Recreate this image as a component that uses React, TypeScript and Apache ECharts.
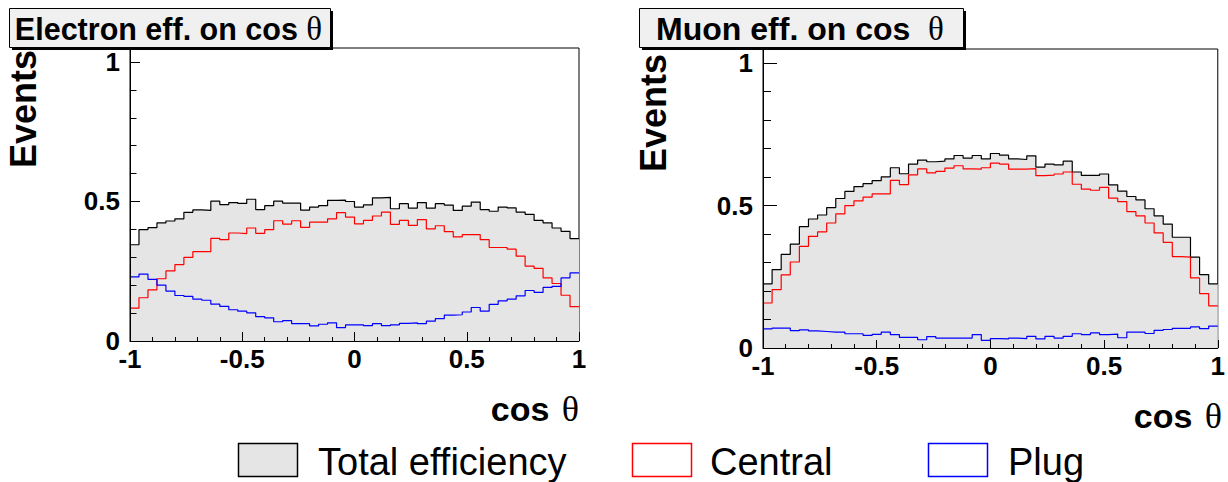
import React, { useEffect, useRef } from 'react';
import * as echarts from 'echarts';

// ---- histogram binning (50 bins over cos theta in [-1, 1]) ----
const X_MIN = -1;
const X_MAX = 1;

// ---- Electron panel ----
const electronTotal = [
  0.345, 0.399, 0.406, 0.423, 0.430, 0.438, 0.461, 0.470, 0.468, 0.501,
  0.489, 0.496, 0.493, 0.508, 0.471, 0.485, 0.501, 0.494, 0.494, 0.469,
  0.480, 0.485, 0.504, 0.505, 0.500, 0.480, 0.488, 0.513, 0.515, 0.474,
  0.492, 0.476, 0.496, 0.476, 0.492, 0.487, 0.468, 0.483, 0.498, 0.471,
  0.465, 0.480, 0.477, 0.462, 0.454, 0.432, 0.423, 0.405, 0.393, 0.367,
];
const electronCentral = [
  0.118, 0.155, 0.183, 0.223, 0.251, 0.274, 0.300, 0.320, 0.320, 0.368,
  0.363, 0.387, 0.385, 0.405, 0.386, 0.399, 0.431, 0.419, 0.431, 0.407,
  0.426, 0.426, 0.438, 0.460, 0.444, 0.420, 0.432, 0.448, 0.462, 0.418,
  0.432, 0.414, 0.435, 0.402, 0.413, 0.392, 0.373, 0.381, 0.381, 0.363,
  0.335, 0.335, 0.329, 0.304, 0.268, 0.260, 0.226, 0.206, 0.164, 0.123,
];
const electronPlug = [
  0.230, 0.240, 0.221, 0.200, 0.179, 0.163, 0.160, 0.150, 0.146, 0.132,
  0.124, 0.112, 0.107, 0.101, 0.087, 0.083, 0.069, 0.073, 0.062, 0.062,
  0.054, 0.060, 0.065, 0.048, 0.058, 0.058, 0.055, 0.062, 0.055, 0.058,
  0.063, 0.065, 0.062, 0.071, 0.080, 0.093, 0.094, 0.104, 0.120, 0.107,
  0.131, 0.144, 0.150, 0.162, 0.181, 0.174, 0.192, 0.196, 0.226, 0.244,
];

// ---- Muon panel ----
const muonTotal = [
  0.225, 0.275, 0.329, 0.365, 0.426, 0.453, 0.467, 0.493, 0.525, 0.550,
  0.567, 0.577, 0.588, 0.601, 0.633, 0.612, 0.646, 0.660, 0.654, 0.656,
  0.664, 0.676, 0.667, 0.676, 0.664, 0.683, 0.677, 0.664, 0.662, 0.675,
  0.635, 0.646, 0.643, 0.656, 0.618, 0.606, 0.606, 0.611, 0.573, 0.551,
  0.532, 0.520, 0.489, 0.464, 0.435, 0.389, 0.389, 0.319, 0.258, 0.225,
];
const muonCentral = [
  0.158, 0.205, 0.257, 0.302, 0.357, 0.392, 0.408, 0.439, 0.471, 0.500,
  0.517, 0.530, 0.541, 0.541, 0.589, 0.574, 0.608, 0.629, 0.615, 0.620,
  0.632, 0.640, 0.629, 0.628, 0.633, 0.649, 0.646, 0.628, 0.628, 0.630,
  0.605, 0.607, 0.611, 0.618, 0.575, 0.558, 0.554, 0.564, 0.526, 0.514,
  0.479, 0.464, 0.439, 0.404, 0.371, 0.321, 0.319, 0.246, 0.191, 0.148,
];
const muonPlug = [
  0.067, 0.070, 0.070, 0.061, 0.064, 0.060, 0.058, 0.056, 0.056, 0.050,
  0.050, 0.044, 0.048, 0.056, 0.047, 0.037, 0.037, 0.029, 0.040, 0.035,
  0.035, 0.035, 0.035, 0.047, 0.027, 0.033, 0.032, 0.035, 0.033, 0.041,
  0.032, 0.041, 0.035, 0.041, 0.050, 0.047, 0.053, 0.047, 0.049, 0.036,
  0.056, 0.056, 0.051, 0.062, 0.065, 0.069, 0.069, 0.074, 0.068, 0.077,
];

// ---- texts ----
const xTickLabels = ['-1', '-0.5', '0', '0.5', '1'];
const yTickLabels = ['0', '0.5', '1'];
const legendLabels = ['Total efficiency', 'Central', 'Plug'];
const panelTitles = ['Electron eff. on cos ', 'Muon eff. on cos  '];
const yTitle = 'Events';
const xTitle = 'cos ';
const THETA = 'θ';

const SANS = '"Liberation Sans", Arial, Helvetica, sans-serif';
const SERIF = '"Liberation Serif", "Times New Roman", serif';

function toSteps(values: number[]) {
  const w = (X_MAX - X_MIN) / values.length;
  const pts: number[][] = values.map((v, i) => [X_MIN + i * w, v]);
  pts.push([X_MAX, values[values.length - 1]]);
  return pts;
}

function xLabel(v: number) {
  const idx = Math.round((v - X_MIN) / 0.5);
  return xTickLabels[idx] ?? '';
}
function yLabel(v: number) {
  if (Math.abs(v - 0) < 1e-6) return yTickLabels[0];
  if (Math.abs(v - 0.5) < 1e-6) return yTickLabels[1];
  if (Math.abs(v - 1) < 1e-6) return yTickLabels[2];
  return '';
}

export default function App() {
  const ref = useRef<HTMLDivElement>(null);

  useEffect(() => {
    if (!ref.current) return;
    const chart = echarts.init(ref.current, undefined, { renderer: 'svg' });

    const grids = [
      { left: 130, top: 48, width: 449, height: 293 },
      { left: 763, top: 49, width: 459, height: 299 },
    ];
    const tickLens = [
      { xMajor: 9, xMinor: 4, yMajor: 10, yMinor: 6.5 },
      { xMajor: 8, xMinor: 4, yMajor: 14, yMinor: 8 },
    ];

    const xAxes: any[] = [];
    const yAxes: any[] = [];
    grids.forEach((g, gi) => {
      const t = tickLens[gi];
      xAxes.push({
        type: 'value',
        gridIndex: gi,
        min: X_MIN,
        max: X_MAX,
        interval: 0.5,
        z: 5,
        axisLine: { show: true, onZero: false, lineStyle: { color: '#000', width: 1 } },
        axisTick: { show: true, inside: true, length: t.xMajor, lineStyle: { color: '#000', width: 1 } },
        minorTick: { show: true, splitNumber: 5, length: t.xMinor, lineStyle: { color: '#000', width: 1 } },
        splitLine: { show: false },
        minorSplitLine: { show: false },
        axisLabel: {
          show: true,
          margin: 5,
          fontSize: 26,
          fontWeight: 'bold',
          fontFamily: SANS,
          color: '#000',
          formatter: (v: number) => xLabel(v),
        },
      });
      // minor y ticks
      yAxes.push({
        type: 'value',
        gridIndex: gi,
        position: 'left',
        min: 0,
        max: 1.05,
        interval: 0.1,
        z: 5,
        axisLine: { show: true, onZero: false, lineStyle: { color: '#000', width: 1 } },
        axisTick: { show: true, inside: true, length: t.yMinor, lineStyle: { color: '#000', width: 1 } },
        axisLabel: { show: false },
        splitLine: { show: false },
      });
      // major y ticks with labels
      yAxes.push({
        type: 'value',
        gridIndex: gi,
        position: 'left',
        min: 0,
        max: 1.05,
        interval: 0.5,
        z: 5,
        axisLine: { show: true, onZero: false, lineStyle: { color: '#000', width: 1 } },
        axisTick: { show: true, inside: true, length: t.yMajor, lineStyle: { color: '#000', width: 1 } },
        splitLine: { show: false },
        axisLabel: {
          show: true,
          margin: 10,
          fontSize: 26,
          fontWeight: 'bold',
          fontFamily: SANS,
          color: '#000',
          formatter: (v: number) => yLabel(v),
        },
      });
    });

    const panels = [
      { total: electronTotal, central: electronCentral, plug: electronPlug },
      { total: muonTotal, central: muonCentral, plug: muonPlug },
    ];
    const series: any[] = [];
    panels.forEach((p, gi) => {
      const common = {
        type: 'line',
        xAxisIndex: gi,
        yAxisIndex: gi * 2 + 1,
        step: 'end',
        showSymbol: false,
        symbol: 'none',
        silent: true,
      };
      series.push({
        ...common,
        name: legendLabels[0],
        data: toSteps(p.total),
        lineStyle: { color: '#000', width: 1.2 },
        itemStyle: { color: '#000' },
        areaStyle: { color: '#e5e5e5', opacity: 1 },
        z: 2,
      });
      series.push({
        ...common,
        name: legendLabels[1],
        data: toSteps(p.central),
        lineStyle: { color: '#ff0000', width: 1.2 },
        itemStyle: { color: '#ff0000' },
        z: 3,
      });
      series.push({
        ...common,
        name: legendLabels[2],
        data: toSteps(p.plug),
        lineStyle: { color: '#0000ff', width: 1.2 },
        itemStyle: { color: '#0000ff' },
        z: 3,
      });
    });

    const titleBoxes = [
      { x: 9, y: 8, w: 321, h: 39, fs: 30.5 },
      { x: 639, y: 8, w: 324, h: 39, fs: 32 },
    ];
    const graphics: any[] = [];
    titleBoxes.forEach((b, i) => {
      graphics.push({
        type: 'rect', z: 20,
        shape: { x: b.x + 3, y: b.y + 3, width: b.w, height: b.h },
        style: { fill: '#000' },
      });
      graphics.push({
        type: 'rect', z: 21,
        shape: { x: b.x + 0.5, y: b.y + 0.5, width: b.w, height: b.h },
        style: { fill: '#f0f0f0', stroke: '#000', lineWidth: 1 },
      });
      graphics.push({
        type: 'text', z: 22,
        x: b.x + b.w / 2 - 1,
        y: b.y + b.h / 2 + 1,
        style: {
          text: '{a|' + panelTitles[i] + '}{b|' + THETA + '}',
          textAlign: 'center', align: 'center',
          textVerticalAlign: 'middle', verticalAlign: 'middle',
          rich: {
            a: { fontFamily: SANS, fontSize: b.fs, fontWeight: 'bold', fill: '#000' },
            b: { fontFamily: SERIF, fontSize: 33, fontWeight: 'normal', fill: '#000' },
          },
        },
      });
    });

    // y axis titles (rotated)
    const yTitlePos = [
      { x: 23, y: 50 },
      { x: 653, y: 54 },
    ];
    yTitlePos.forEach((p) => {
      graphics.push({
        type: 'text', z: 10,
        x: p.x, y: p.y,
        rotation: Math.PI / 2,
        style: {
          text: yTitle,
          fontFamily: SANS, fontSize: 36, fontWeight: 'bold', fill: '#000',
          textAlign: 'right', align: 'right',
          textVerticalAlign: 'middle', verticalAlign: 'middle',
        },
      });
    });

    // x axis titles
    const xTitlePos = [
      { x: 579, y: 408.5 },
      { x: 1222, y: 415.5 },
    ];
    xTitlePos.forEach((p) => {
      graphics.push({
        type: 'text', z: 10,
        x: p.x, y: p.y,
        style: {
          text: '{a|' + xTitle + '}{b|' + THETA + '}',
          textAlign: 'right', align: 'right',
          textVerticalAlign: 'middle', verticalAlign: 'middle',
          rich: {
            a: { fontFamily: SANS, fontSize: 34, fontWeight: 'bold', fill: '#000' },
            b: { fontFamily: SERIF, fontSize: 36, fontWeight: 'normal', fill: '#000', padding: [0, 0, 0, 3] },
          },
        },
      });
    });

    // legend
    const legendItems = [
      { bx: 238.5, tx: 318, fill: '#e5e5e5', stroke: '#000' },
      { bx: 632.5, tx: 710, fill: '#ffffff', stroke: '#ff0000' },
      { bx: 928.5, tx: 1008, fill: '#ffffff', stroke: '#0000ff' },
    ];
    legendItems.forEach((it, i) => {
      graphics.push({
        type: 'rect', z: 10,
        shape: { x: it.bx, y: 443.5, width: 59, height: 33 },
        style: { fill: it.fill, stroke: it.stroke, lineWidth: 1.5 },
      });
      graphics.push({
        type: 'text', z: 10,
        x: it.tx, y: 461.5,
        style: {
          text: legendLabels[i],
          fontFamily: SANS, fontSize: 38, fontWeight: 'normal', fill: '#000',
          textAlign: 'left', align: 'left',
          textVerticalAlign: 'middle', verticalAlign: 'middle',
        },
      });
    });

    chart.setOption({
      animation: false,
      backgroundColor: '#ffffff',
      grid: grids.map((g) => ({
        ...g,
        show: true,
        borderColor: '#000',
        borderWidth: 1,
        backgroundColor: 'transparent',
        containLabel: false,
      })),
      xAxis: xAxes,
      yAxis: yAxes,
      series,
      graphic: { elements: graphics },
    });

    return () => {
      chart.dispose();
    };
  }, []);

  return (
    <div
      ref={ref}
      style={{ position: 'absolute', left: 0, top: 0, width: 1228, height: 482, background: '#fff' }}
    />
  );
}
